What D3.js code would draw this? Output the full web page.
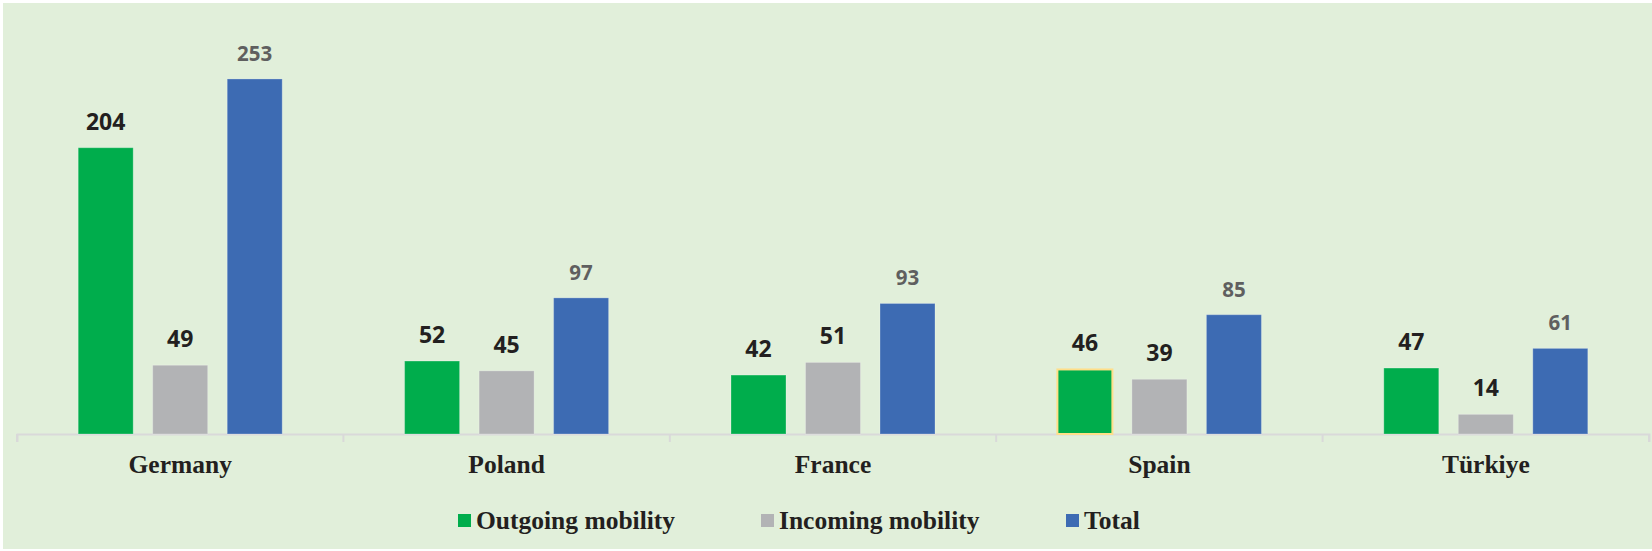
<!DOCTYPE html>
<html>
<head>
<meta charset="utf-8">
<script src="https://cdn.jsdelivr.net/npm/d3@7"></script>
<style>
  html, body { margin: 0; padding: 0; background: #ffffff; }
  svg { display: block; }
</style>
</head>
<body>
<svg class="chart"></svg>
<script>
// data
var countries = ["Germany", "Poland", "France", "Spain", "Türkiye"];
var seriesNames = ["Outgoing mobility", "Incoming mobility", "Total"];
var outgoing = [204, 52, 42, 46, 47];
var incoming = [49, 45, 51, 39, 14];
var total = [253, 97, 93, 85, 61];

var W = 1652, H = 551;
var colors = ["#00ad4c", "#b2b3b5", "#3d6bb3"];

var svg = d3.select(".chart").attr("width", W).attr("height", H);

// light green chart area
svg.append("rect")
    .attr("x", 3).attr("y", 3)
    .attr("width", W - 3).attr("height", 546)
    .attr("fill", "#e1efda");

var plot = {left: 17, right: 1649, top: 13, bottom: 434};

var x0 = d3.scaleBand()
    .domain(countries)
    .range([plot.left, plot.right])
    .padding(0);

// bars sit in the middle of each category, 55px wide with ~19px gaps
var groupPad = (x0.bandwidth() - 204) / 2;
var x1 = d3.scaleBand()
    .domain(seriesNames)
    .range([groupPad, x0.bandwidth() - groupPad])
    .paddingInner(0.262);

var y = d3.scaleLinear()
    .domain([0, 300])
    .range([plot.bottom, plot.top]);

var rows = countries.map(function(c, i) {
  return {country: c, values: [outgoing[i], incoming[i], total[i]]};
});

// axis line with category ticks
var xAxis = d3.axisBottom(x0).tickSize(8).tickSizeOuter(8).tickFormat("");
var axisG = svg.append("g")
    .attr("transform", "translate(0," + plot.bottom + ")")
    .call(xAxis);
axisG.select(".domain").attr("stroke", "#d9d9d9").attr("stroke-width", 2);
// ticks go between categories, not at centres
axisG.selectAll(".tick").remove();
axisG.selectAll(".sep")
    .data(countries.concat(["end"]))
  .enter().append("line")
    .attr("x1", function(d, i) { return plot.left + i * x0.step(); })
    .attr("x2", function(d, i) { return plot.left + i * x0.step(); })
    .attr("y1", 0).attr("y2", 8)
    .attr("stroke", "#d9d9d9").attr("stroke-width", 2);

var group = svg.selectAll(".group")
    .data(rows)
  .enter().append("g")
    .attr("transform", function(d) { return "translate(" + x0(d.country) + ",0)"; });

var bars = group.selectAll("g.bar")
    .data(function(d) {
      return d.values.map(function(v, j) { return {country: d.country, series: seriesNames[j], j: j, value: v}; });
    })
  .enter().append("g").attr("class", "bar");

bars.append("rect")
    .attr("x", function(d) { return x1(d.series); })
    .attr("y", function(d) { return y(d.value); })
    .attr("width", x1.bandwidth())
    .attr("height", function(d) { return y(0) - y(d.value); })
    .attr("fill", function(d) { return colors[d.j]; })
    .attr("stroke", function(d) { return d.country == "Spain" && d.j == 0 ? "#ffdf8a" : "rgba(255,255,255,0.25)"; })
    .attr("stroke-width", function(d) { return d.country == "Spain" && d.j == 0 ? 2 : 1; });

bars.append("text")
    .attr("x", function(d) { return x1(d.series) + x1.bandwidth() / 2; })
    .attr("y", function(d) { return y(d.value) - 18; })
    .attr("text-anchor", "middle")
    .attr("font-family", "'Open Sans', sans-serif")
    .attr("font-weight", "bold")
    .attr("font-size", function(d) { return d.j == 2 ? "20.5px" : "23px"; })
    .attr("fill", function(d) { return d.j == 2 ? "#5f5f5f" : "#231f20"; })
    .text(function(d) { return d.value; });

// category labels
svg.selectAll(".cat")
    .data(countries)
  .enter().append("text")
    .attr("x", function(d) { return x0(d) + x0.bandwidth() / 2; })
    .attr("y", 473)
    .attr("text-anchor", "middle")
    .attr("font-family", "'Liberation Serif', 'Times New Roman', serif")
    .attr("font-weight", "bold")
    .attr("font-size", "25.5px")
    .attr("fill", "#231f20")
    .text(function(d) { return d; });

// legend
var legendX = [458, 761, 1066];
var legend = svg.selectAll(".legend")
    .data(seriesNames)
  .enter().append("g")
    .attr("transform", function(d, i) { return "translate(" + legendX[i] + ",514)"; });

legend.append("rect")
    .attr("width", 13).attr("height", 13)
    .attr("fill", function(d, i) { return colors[i]; });

legend.append("text")
    .attr("x", 18).attr("y", 15)
    .attr("font-family", "'Liberation Serif', 'Times New Roman', serif")
    .attr("font-weight", "bold")
    .attr("font-size", "25.5px")
    .attr("fill", "#231f20")
    .text(function(d) { return d; });
</script>
</body>
</html>
